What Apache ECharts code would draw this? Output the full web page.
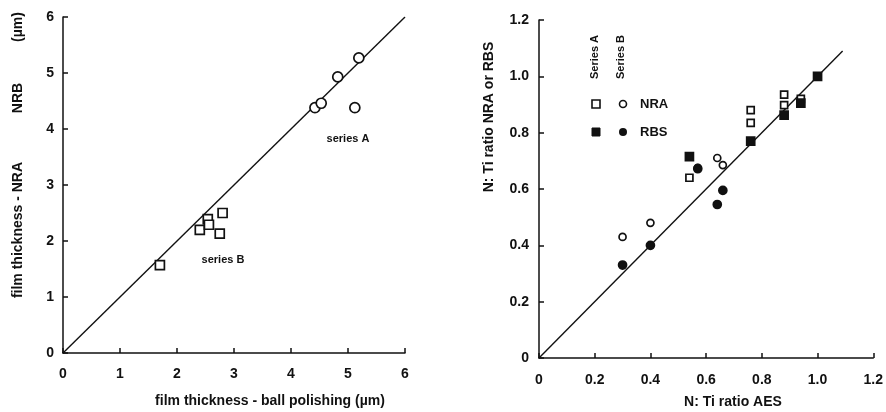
<!DOCTYPE html>
<html>
<head>
<meta charset="utf-8">
<script src="https://cdn.jsdelivr.net/npm/echarts@6/dist/echarts.min.js"></script>
<style>
  html, body { margin: 0; padding: 0; background: #fff; }
  #chart { width: 886px; height: 412px; }
</style>
</head>
<body>
<div id="chart"></div>
<script>
(function(){

  /*
   * data
   */
  // left: film thickness, ball polishing (x) vs NRA / NRB (y), in µm
  var seriesA = [[4.42, 4.38], [4.53, 4.46], [4.82, 4.93], [5.19, 5.27], [5.12, 4.38]];
  var seriesB = [[1.70, 1.57], [2.40, 2.20], [2.54, 2.39], [2.56, 2.29], [2.75, 2.13], [2.80, 2.50]];
  var leftDiagonal = [[0, 0], [6, 6]];

  // right: N:Ti ratio AES (x) vs NRA or RBS (y)
  var nraA = [[0.54, 0.64], [0.76, 0.835], [0.76, 0.88], [0.88, 0.898], [0.88, 0.935], [0.94, 0.92], [1.0, 1.0]];
  var rbsA = [[0.54, 0.715], [0.76, 0.77], [0.88, 0.862], [0.94, 0.905], [1.0, 1.0]];
  var nraB = [[0.30, 0.43], [0.40, 0.48], [0.57, 0.675], [0.64, 0.71], [0.66, 0.685]];
  var rbsB = [[0.30, 0.33], [0.40, 0.40], [0.57, 0.672], [0.64, 0.545], [0.66, 0.595]];
  var rightDiagonal = [[0, 0], [1.09, 1.09]];

  var FONT = 'Liberation Sans';
  var INK = '#111';

  // 两个坐标轴共用的样式
  function axis(gridIndex, max, interval, margin, size, fmt){
    return {
      type: 'value', gridIndex: gridIndex,
      min: 0, max: max, interval: interval,
      axisLine: { show: true, onZero: false, lineStyle: { color: INK, width: 1.5 } },
      axisTick: { show: true, inside: true, length: 5, lineStyle: { color: INK, width: 1.5 } },
      splitLine: { show: false },
      axisLabel: { color: INK, fontFamily: FONT, fontWeight: 'bold', fontSize: size,
        margin: margin, formatter: fmt }
    };
  }
  var ratioFmt = function(v){ return v === 0 ? '0' : v.toFixed(1); };

  function scatter(name, data, x, y, symbol, size, filled){
    return {
      name: name, type: 'scatter', xAxisIndex: x, yAxisIndex: y,
      data: data, symbol: symbol, symbolSize: size, z: 3,
      itemStyle: { color: filled ? INK : '#fff', borderColor: INK, borderWidth: 1.7, opacity: 1 }
    };
  }
  function diagonal(data, x, y){
    return {
      type: 'line', xAxisIndex: x, yAxisIndex: y, data: data,
      symbol: 'none', silent: true, z: 2,
      lineStyle: { color: INK, width: 1.4 }
    };
  }
  function txt(x, y, s, size, rot){
    return {
      type: 'text', x: x, y: y, rotation: rot ? Math.PI / 2 : 0,
      style: {
        text: s, fill: INK, font: 'bold ' + size + 'px "' + FONT + '"',
        textAlign: 'center', textVerticalAlign: 'middle'
      }
    };
  }

  var option = {
    animation: false,
    backgroundColor: '#fff',
    grid: [
      { left: 63, right: 481, top: 17, bottom: 59 },
      { left: 539, right: 7, top: 20, bottom: 54 }
    ],
    xAxis: [
      axis(0, 6, 1, 14, 14),
      axis(1, 1.2, 0.2, 15, 14, ratioFmt)
    ],
    yAxis: [
      axis(0, 6, 1, 9, 14),
      axis(1, 1.2, 0.2, 10, 14, ratioFmt)
    ],
    series: [
      diagonal(leftDiagonal, 0, 0),
      scatter('series A', seriesA, 0, 0, 'circle', 10, false),
      scatter('series B', seriesB, 0, 0, 'rect', 9, false),
      diagonal(rightDiagonal, 1, 1),
      scatter('NRA A', nraA, 1, 1, 'rect', 7, false),
      scatter('RBS A', rbsA, 1, 1, 'rect', 8, true),
      scatter('NRA B', nraB, 1, 1, 'circle', 7, false),
      scatter('RBS B', rbsB, 1, 1, 'circle', 8, true)
    ],
    graphic: [
      // 左图标题和注释
      txt(270, 401, 'film thickness - ball polishing (µm)', 14),
      txt(18, 230, 'film thickness - NRA', 14, true),
      txt(18, 98, 'NRB', 14, true),
      txt(18, 27, '(µm)', 14, true),
      txt(348, 139, 'series A', 11),
      txt(223, 260, 'series B', 11),
      // 右图标题
      txt(733, 402, 'N: Ti ratio AES', 14),
      txt(489, 117, 'N: Ti ratio NRA or RBS', 14, true),
      // 右图图例
      txt(595, 57, 'Series A', 11, true),
      txt(621, 57, 'Series B', 11, true),
      { type: 'rect', shape: { x: 592, y: 100, width: 8, height: 8 },
        style: { fill: '#fff', stroke: INK, lineWidth: 1.6 } },
      { type: 'circle', shape: { cx: 623, cy: 104, r: 3.5 },
        style: { fill: '#fff', stroke: INK, lineWidth: 1.6 } },
      { type: 'text', x: 640, y: 104, style: { text: 'NRA', fill: INK,
        font: 'bold 13px "' + FONT + '"', textVerticalAlign: 'middle' } },
      { type: 'rect', shape: { x: 592, y: 128, width: 8, height: 8 },
        style: { fill: INK, stroke: INK, lineWidth: 1 } },
      { type: 'circle', shape: { cx: 623, cy: 132, r: 4 },
        style: { fill: INK } },
      { type: 'text', x: 640, y: 132, style: { text: 'RBS', fill: INK,
        font: 'bold 13px "' + FONT + '"', textVerticalAlign: 'middle' } }
    ]
  };

  echarts.init(document.getElementById('chart')).setOption(option);

})();
</script>
</body>
</html>
